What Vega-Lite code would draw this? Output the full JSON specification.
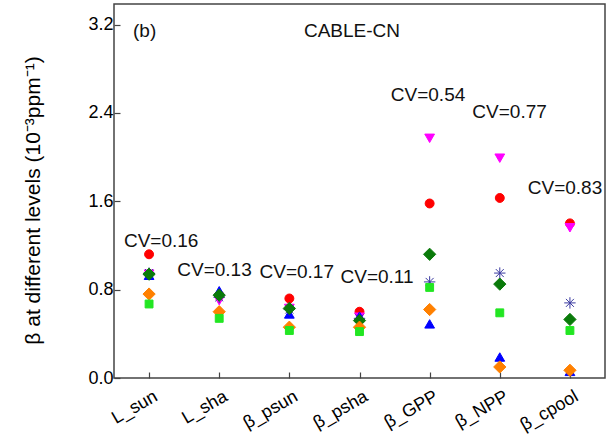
{
  "$schema": "https://vega.github.io/schema/vega-lite/v6.json",
  "autosize": {"type": "none"},
  "padding": {"left": 114, "top": 4, "right": 8, "bottom": 66},
  "width": 491,
  "height": 374,
  "background": "white",
  "config": {
    "view": {"stroke": "#444", "strokeWidth": 1.5},
    "font": "Liberation Sans"
  },
  "datasets": {
    "pts": [
      {"cat": "L_sun", "pos": 0, "series": "A", "value": 1.12},
      {"cat": "L_sha", "pos": 1, "series": "A", "value": 0.75},
      {"cat": "β_psun", "pos": 2, "series": "A", "value": 0.72},
      {"cat": "β_psha", "pos": 3, "series": "A", "value": 0.6},
      {"cat": "β_GPP", "pos": 4, "series": "A", "value": 1.58},
      {"cat": "β_NPP", "pos": 5, "series": "A", "value": 1.63},
      {"cat": "β_cpool", "pos": 6, "series": "A", "value": 1.4},
      {"cat": "L_sun", "pos": 0, "series": "B", "value": 0.94},
      {"cat": "L_sha", "pos": 1, "series": "B", "value": 0.7},
      {"cat": "β_psun", "pos": 2, "series": "B", "value": 0.63},
      {"cat": "β_psha", "pos": 3, "series": "B", "value": 0.55},
      {"cat": "β_GPP", "pos": 4, "series": "B", "value": 2.17},
      {"cat": "β_NPP", "pos": 5, "series": "B", "value": 1.99},
      {"cat": "β_cpool", "pos": 6, "series": "B", "value": 1.36},
      {"cat": "L_sun", "pos": 0, "series": "C", "value": 0.93},
      {"cat": "L_sha", "pos": 1, "series": "C", "value": 0.79},
      {"cat": "β_psun", "pos": 2, "series": "C", "value": 0.58},
      {"cat": "β_psha", "pos": 3, "series": "C", "value": 0.56},
      {"cat": "β_GPP", "pos": 4, "series": "C", "value": 0.49},
      {"cat": "β_NPP", "pos": 5, "series": "C", "value": 0.19},
      {"cat": "β_cpool", "pos": 6, "series": "C", "value": 0.06},
      {"cat": "L_sun", "pos": 0, "series": "D", "value": 0.95},
      {"cat": "L_sha", "pos": 1, "series": "D", "value": 0.73},
      {"cat": "β_psun", "pos": 2, "series": "D", "value": 0.62},
      {"cat": "β_psha", "pos": 3, "series": "D", "value": 0.54},
      {"cat": "β_GPP", "pos": 4, "series": "D", "value": 0.87},
      {"cat": "β_NPP", "pos": 5, "series": "D", "value": 0.95},
      {"cat": "β_cpool", "pos": 6, "series": "D", "value": 0.68},
      {"cat": "L_sun", "pos": 0, "series": "E", "value": 0.94},
      {"cat": "L_sha", "pos": 1, "series": "E", "value": 0.75},
      {"cat": "β_psun", "pos": 2, "series": "E", "value": 0.63},
      {"cat": "β_psha", "pos": 3, "series": "E", "value": 0.52},
      {"cat": "β_GPP", "pos": 4, "series": "E", "value": 1.12},
      {"cat": "β_NPP", "pos": 5, "series": "E", "value": 0.85},
      {"cat": "β_cpool", "pos": 6, "series": "E", "value": 0.53},
      {"cat": "L_sun", "pos": 0, "series": "F", "value": 0.76},
      {"cat": "L_sha", "pos": 1, "series": "F", "value": 0.6},
      {"cat": "β_psun", "pos": 2, "series": "F", "value": 0.46},
      {"cat": "β_psha", "pos": 3, "series": "F", "value": 0.46},
      {"cat": "β_GPP", "pos": 4, "series": "F", "value": 0.62},
      {"cat": "β_NPP", "pos": 5, "series": "F", "value": 0.1},
      {"cat": "β_cpool", "pos": 6, "series": "F", "value": 0.07},
      {"cat": "L_sun", "pos": 0, "series": "G", "value": 0.67},
      {"cat": "L_sha", "pos": 1, "series": "G", "value": 0.54},
      {"cat": "β_psun", "pos": 2, "series": "G", "value": 0.43},
      {"cat": "β_psha", "pos": 3, "series": "G", "value": 0.42},
      {"cat": "β_GPP", "pos": 4, "series": "G", "value": 0.82},
      {"cat": "β_NPP", "pos": 5, "series": "G", "value": 0.59},
      {"cat": "β_cpool", "pos": 6, "series": "G", "value": 0.43}
    ],
    "labels": [
      {"text": "CV=0.16", "pos": 0.173, "value": 1.19},
      {"text": "CV=0.13", "pos": 0.933, "value": 0.925},
      {"text": "CV=0.17", "pos": 2.105, "value": 0.905},
      {"text": "CV=0.11", "pos": 3.25, "value": 0.86},
      {"text": "CV=0.54", "pos": 3.977, "value": 2.505},
      {"text": "CV=0.77", "pos": 5.14, "value": 2.35},
      {"text": "CV=0.83", "pos": 5.93, "value": 1.668},
      {"text": "CABLE-CN", "pos": 2.893, "value": 3.09}
    ],
    "panel": [
      {"text": "(b)", "pos": -0.229, "value": 3.09}
    ]
  },
  "encoding": {
    "x": {
      "field": "pos",
      "type": "quantitative",
      "scale": {"domain": [-0.5, 6.5], "nice": false, "zero": false},
      "axis": {
        "values": [0, 1, 2, 3, 4, 5, 6],
        "labelExpr": "['L_sun','L_sha','β_psun','β_psha','β_GPP','β_NPP','β_cpool'][datum.value]",
        "title": null,
        "grid": false,
        "domain": false,
        "ticks": true,
        "tickSize": -6,
        "tickColor": "#444",
        "tickWidth": 1.2,
        "labelAngle": -30,
        "labelAlign": "right",
        "labelBaseline": "top",
        "labelPadding": 15,
        "labelOffset": 2,
        "labelFontSize": 18,
        "labelColor": "#000",
        "labelFont": "Liberation Sans"
      }
    },
    "y": {
      "field": "value",
      "type": "quantitative",
      "scale": {"domain": [0, 3.386], "nice": false},
      "axis": {
        "values": [0, 0.8, 1.6, 2.4, 3.2],
        "format": ".1f",
        "grid": false,
        "domain": false,
        "tickSize": -6,
        "tickColor": "#444",
        "tickWidth": 1.2,
        "labelPadding": 7,
        "labelFontSize": 18,
        "labelColor": "#000",
        "labelFont": "Liberation Sans",
        "title": "β at different levels (10⁻³ppm⁻¹)",
        "titleFontSize": 21,
        "titleFontWeight": "normal",
        "titleFont": "Liberation Sans",
        "titleColor": "#000",
        "titleAngle": -90,
        "titleAlign": "center",
        "titleBaseline": "middle",
        "titleX": -81,
        "titleY": 196
      }
    }
  },
  "layer": [
    {
      "data": {"name": "pts"},
      "mark": {"type": "point", "filled": true, "strokeWidth": 1, "opacity": 1},
      "encoding": {
        "color": {
          "field": "series",
          "type": "nominal",
          "scale": {
            "domain": ["A", "B", "C", "D", "E", "F", "G"],
            "range": ["#ff0000", "#ff00ff", "#0000ff", "#3a3aa0", "#0a7a0a", "#ff8000", "#22e622"]
          },
          "legend": null
        },
        "stroke": {
          "field": "series",
          "type": "nominal",
          "scale": {
            "domain": ["A", "B", "C", "D", "E", "F", "G"],
            "range": ["#ff0000", "#ff00ff", "#0000ff", "#3a3aa0", "#0a7a0a", "#ff8000", "#22e622"]
          },
          "legend": null
        },
        "size": {
          "field": "series",
          "type": "ordinal",
          "scale": {
            "type": "ordinal",
            "domain": ["A", "B", "C", "D", "E", "F", "G"],
            "range": [80, 95, 95, 130, 150, 150, 62]
          },
          "legend": null
        },
        "shape": {
          "field": "series",
          "type": "nominal",
          "scale": {
            "domain": ["A", "B", "C", "D", "E", "F", "G"],
            "range": ["circle", "triangle-down", "triangle-up", "M-1,0L1,0M0,-1L0,1M-0.7,-0.7L0.7,0.7M-0.7,0.7L0.7,-0.7", "diamond", "diamond", "square"]
          },
          "legend": null
        }
      }
    },
    {
      "data": {"name": "labels"},
      "mark": {"type": "text", "fontSize": 19, "font": "Liberation Sans", "color": "#111", "align": "center", "baseline": "alphabetic"},
      "encoding": {"text": {"field": "text"}}
    },
    {
      "data": {"name": "panel"},
      "mark": {"type": "text", "fontSize": 19, "font": "Liberation Sans", "color": "#111", "align": "left", "baseline": "alphabetic"},
      "encoding": {"text": {"field": "text"}}
    }
  ]
}
